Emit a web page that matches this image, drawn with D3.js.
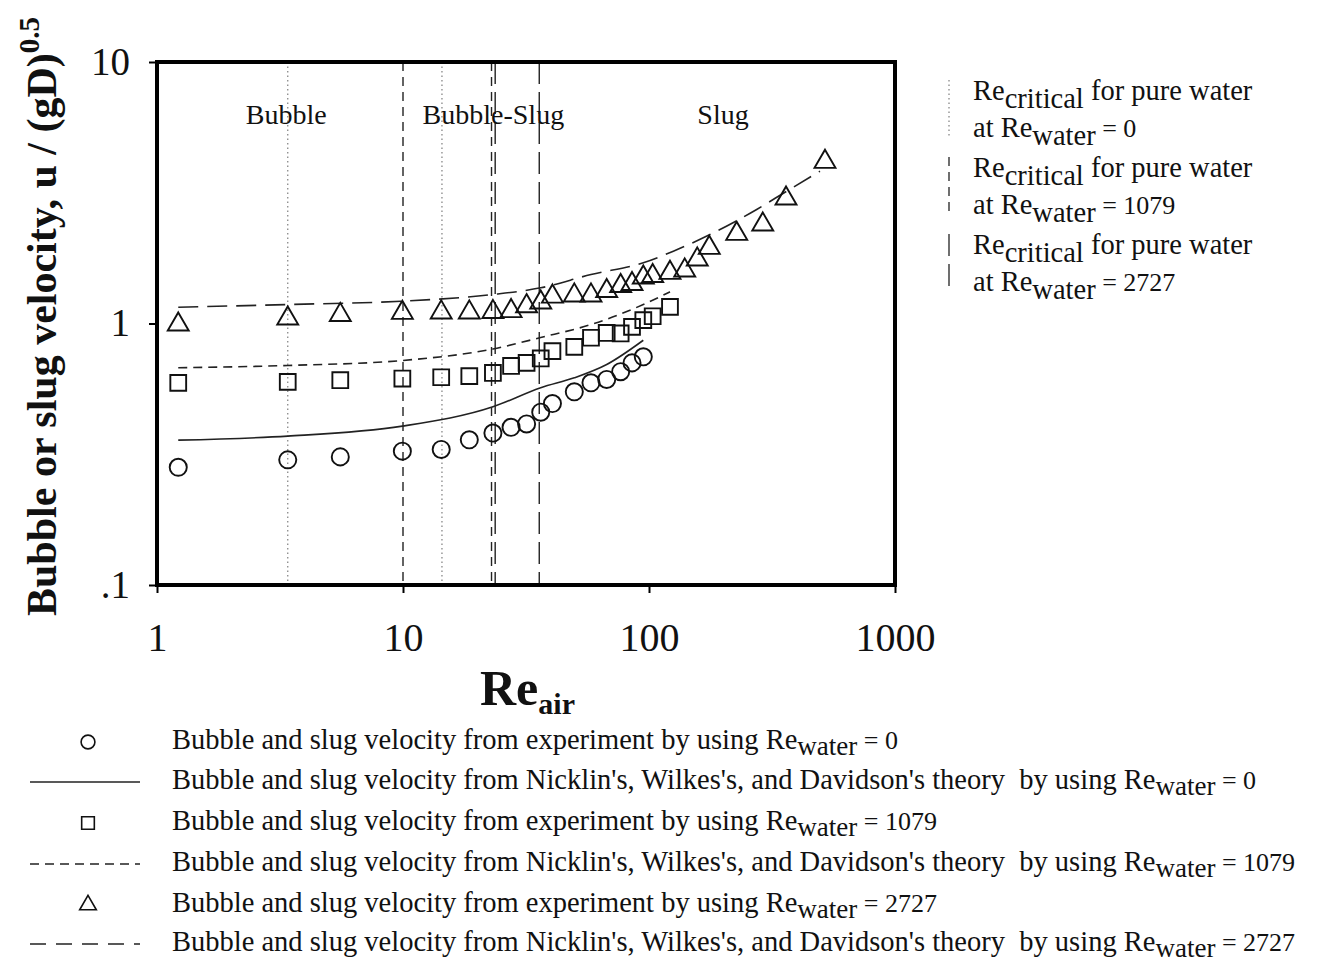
<!DOCTYPE html>
<html>
<head>
<meta charset="utf-8">
<script src="https://cdn.jsdelivr.net/npm/d3@7"></script>
<style>
body { margin: 0; background: #fff; }
text { font-family: "Liberation Serif", "Times New Roman", serif; fill: #111; }
</style>
</head>
<body>
<svg id="chart"></svg>
<script>
// experiment points (Re_air, u/(gD)^0.5)
var reAirExp = [1.22, 3.40, 5.56, 9.94, 14.3, 18.6, 23.2, 27.5, 31.8, 36.3, 40.5, 49.7, 58.1, 67.3, 76.7, 85.3, 94.8, 103.5, 121.7, 139.7, 157.1, 175.8, 227.3, 290, 360.6, 519.3];
var velRe0 = [0.282, 0.301, 0.309, 0.325, 0.330, 0.359, 0.381, 0.401, 0.413, 0.458, 0.494, 0.548, 0.593, 0.611, 0.654, 0.707, 0.746];
var velRe1079 = [0.593, 0.598, 0.607, 0.616, 0.623, 0.629, 0.647, 0.688, 0.707, 0.735, 0.784, 0.814, 0.882, 0.920, 0.916, 0.971, 1.03, 1.066, 1.158];
var velRe2727 = [0.991, 1.045, 1.078, 1.099, 1.102, 1.102, 1.107, 1.116, 1.165, 1.203, 1.268, 1.280, 1.280, 1.331, 1.391, 1.416, 1.499, 1.519, 1.563, 1.595, 1.757, 1.947, 2.203, 2.391, 3.006, 4.153];

// theory curves
var theoryRe0X = [1.22, 3.40, 9.94, 23.2, 36.3, 49.7, 67.3, 94.8];
var theoryRe0Y = [0.358, 0.371, 0.405, 0.480, 0.568, 0.620, 0.697, 0.863];
var theoryRe1079X = [1.22, 3.40, 9.94, 23.2, 36.3, 58.1, 94.8, 121.7];
var theoryRe1079Y = [0.677, 0.691, 0.722, 0.799, 0.884, 0.991, 1.182, 1.322];
var theoryRe2727X = [1.22, 3.40, 9.94, 23.2, 36.3, 58.1, 94.8, 125.6, 177, 274, 363, 495.6];
var theoryRe2727Y = [1.154, 1.182, 1.217, 1.291, 1.369, 1.539, 1.707, 1.890, 2.189, 2.729, 3.206, 3.823];

// critical Re_air (flow pattern boundaries)
var criticalRe0 = [3.4, 14.4];
var criticalRe1079 = [10, 22.9];
var criticalRe2727 = [23.7, 35.8];

var regimeNames = ["Bubble", "Bubble-Slug", "Slug"];
var regimeAt = [3.35, 23.3, 200];

var xTicks = [1, 10, 100, 1000];
var xTickLabels = ["1", "10", "100", "1000"];
var yTicks = [0.1, 1, 10];
var yTickLabels = [".1", "1", "10"];

var rightLegendWater = ["0", "1079", "2727"];

var bottomLegend = [
  {sym: "circle", w: "0"},
  {sym: "solid", w: "0"},
  {sym: "square", w: "1079"},
  {sym: "short", w: "1079"},
  {sym: "triangle", w: "2727"},
  {sym: "long", w: "2727"}
];

var W = 1322, H = 965;
var svg = d3.select("#chart").attr("width", W).attr("height", H);

var x = d3.scaleLog().domain([1, 1000]).range([157, 895]);
var y = d3.scaleLog().domain([0.1, 10]).range([585, 62]);

var dashShort = "9,6", dashLong = "20,9", dashDot = "1.5,3", dashVLong = "22,8";

// critical lines
function vlines(vals, dash, color, width) {
  svg.append("g").selectAll("line").data(vals).enter().append("line")
    .attr("x1", function (d) { return x(d); }).attr("x2", function (d) { return x(d); })
    .attr("y1", y(10)).attr("y2", y(0.1))
    .attr("stroke", color).attr("stroke-width", width)
    .attr("stroke-dasharray", dash);
}
vlines(criticalRe0, dashDot, "#888", 1.3);
vlines(criticalRe1079, dashShort, "#222", 1.4);
vlines(criticalRe2727, dashVLong, "#222", 1.4);

// regime labels
svg.append("g").selectAll("text").data(regimeNames).enter().append("text")
  .attr("x", function (d, i) { return x(regimeAt[i]); })
  .attr("y", 124)
  .attr("text-anchor", "middle")
  .style("font-size", "28px")
  .text(function (d) { return d; });

// theory curves
var curve = d3.line()
  .x(function (d) { return x(d[0]); })
  .y(function (d) { return y(d[1]); })
  .curve(d3.curveMonotoneX);

svg.append("path").datum(d3.zip(theoryRe0X, theoryRe0Y))
  .attr("d", curve).attr("fill", "none").attr("stroke", "#222").attr("stroke-width", 1.6);
svg.append("path").datum(d3.zip(theoryRe1079X, theoryRe1079Y))
  .attr("d", curve).attr("fill", "none").attr("stroke", "#222").attr("stroke-width", 1.6)
  .attr("stroke-dasharray", dashShort);
svg.append("path").datum(d3.zip(theoryRe2727X, theoryRe2727Y))
  .attr("d", curve).attr("fill", "none").attr("stroke", "#222").attr("stroke-width", 1.6)
  .attr("stroke-dasharray", dashLong);

// markers
var symCircle = d3.symbol().type(d3.symbolCircle).size(230);
var symSquare = d3.symbol().type(d3.symbolSquare).size(250);
var symTri = d3.symbol().type(d3.symbolTriangle).size(190);

function dots(vals, sym) {
  svg.append("g").selectAll("path").data(vals).enter().append("path")
    .attr("d", sym)
    .attr("transform", function (d, i) { return "translate(" + x(reAirExp[i]) + "," + y(d) + ")"; })
    .attr("fill", "none").attr("stroke", "#111").attr("stroke-width", 1.9);
}
dots(velRe2727, symTri);
dots(velRe1079, symSquare);
dots(velRe0, symCircle);

// frame
svg.append("rect")
  .attr("x", x(1)).attr("y", y(10))
  .attr("width", x(1000) - x(1)).attr("height", y(0.1) - y(10))
  .attr("fill", "none").attr("stroke", "#000").attr("stroke-width", 4);

// axes
var xAxis = svg.append("g")
  .attr("transform", "translate(0," + y(0.1) + ")")
  .call(d3.axisBottom(x).tickValues(xTicks).tickSize(8).tickPadding(30)
    .tickFormat(function (d, i) { return xTickLabels[i]; }));
xAxis.select(".domain").remove();
xAxis.selectAll(".tick line").attr("stroke", "#000").attr("stroke-width", 2);
xAxis.selectAll(".tick text").style("font-size", "40px")
  .style("font-family", "Liberation Serif, serif").attr("fill", "#111");

var yAxis = svg.append("g")
  .attr("transform", "translate(" + x(1) + ",0)")
  .call(d3.axisLeft(y).tickValues(yTicks).tickSize(8).tickPadding(19)
    .tickFormat(function (d, i) { return yTickLabels[i]; }));
yAxis.select(".domain").remove();
yAxis.selectAll(".tick line").attr("stroke", "#000").attr("stroke-width", 2);
yAxis.selectAll(".tick text").style("font-size", "39px")
  .style("font-family", "Liberation Serif, serif").attr("fill", "#111");

// axis titles
var xt = svg.append("text").attr("x", 480).attr("y", 705)
  .style("font-size", "50px").style("font-weight", "bold");
xt.append("tspan").text("Re");
xt.append("tspan").attr("dy", 9).style("font-size", "30px").text("air");

var yt = svg.append("text")
  .attr("transform", "translate(56,616) rotate(-90)")
  .style("font-size", "42px").style("font-weight", "bold");
yt.append("tspan").text("Bubble or slug velocity, u / (gD)");
yt.append("tspan").attr("dy", -17).style("font-size", "29px").text("0.5");

// right legend: critical Re lines
var rightLegY = [92, 169, 246];
var rightLegDash = [dashDot, dashShort, dashVLong];
var rightLegColor = ["#888", "#222", "#222"];
rightLegendWater.forEach(function (w, i) {
  var ry = rightLegY[i];
  svg.append("line")
    .attr("x1", 949).attr("x2", 949).attr("y1", ry - 12).attr("y2", ry + 44)
    .attr("stroke", rightLegColor[i]).attr("stroke-width", 1.3)
    .attr("stroke-dasharray", rightLegDash[i]);
  var t1 = svg.append("text").attr("x", 973).attr("y", ry + 8).style("font-size", "28.5px");
  t1.append("tspan").text("Re");
  t1.append("tspan").attr("dy", 8).text("critical");
  t1.append("tspan").attr("dy", -8).text(" for pure water");
  var t2 = svg.append("text").attr("x", 973).attr("y", ry + 45).style("font-size", "28.5px");
  t2.append("tspan").text("at Re");
  t2.append("tspan").attr("dy", 8).text("water");
  t2.append("tspan").attr("dy", -8).style("font-size", "26px").text(" = " + w);
});

// bottom legend
var legY = [742, 782, 823, 864, 905, 944];
var legSym = {
  circle: d3.symbol().type(d3.symbolCircle).size(150),
  square: d3.symbol().type(d3.symbolSquare).size(160),
  triangle: d3.symbol().type(d3.symbolTriangle).size(120)
};
var legDash = {solid: null, short: "9,6", long: "16,10"};

bottomLegend.forEach(function (d, i) {
  var yy = legY[i];
  if (legSym[d.sym]) {
    svg.append("path").attr("d", legSym[d.sym])
      .attr("transform", "translate(88," + yy + ")")
      .attr("fill", "none").attr("stroke", "#111").attr("stroke-width", 1.6);
  } else {
    svg.append("line").attr("x1", 30).attr("x2", 140).attr("y1", yy).attr("y2", yy)
      .attr("stroke", "#222").attr("stroke-width", 1.3)
      .attr("stroke-dasharray", legDash[d.sym]);
  }
  var isTheory = !legSym[d.sym];
  var t = svg.append("text").attr("x", 172).attr("y", yy + 7).style("font-size", "28.5px");
  t.append("tspan").text(isTheory
    ? "Bubble and slug velocity from Nicklin's, Wilkes's, and Davidson's theory\u00a0\u00a0by using Re"
    : "Bubble and slug velocity from experiment by using Re");
  t.append("tspan").attr("dy", 6).style("font-size", "27px").text("water");
  t.append("tspan").attr("dy", -6).style("font-size", "26px").text(" = " + d.w);
});
</script>
</body>
</html>
